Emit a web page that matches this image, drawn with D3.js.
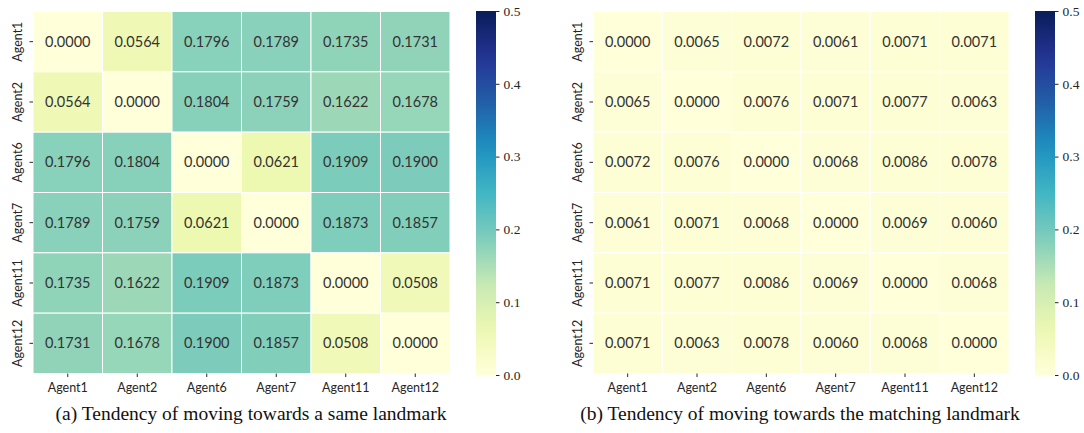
<!DOCTYPE html>
<html>
<head>
<meta charset="utf-8">
<script src="https://cdn.jsdelivr.net/npm/d3@7"></script>
<style>
  body { margin: 0; background: #fff; }
  svg { display: block; }
</style>
</head>
<body>
<svg id="chart" width="1084" height="433"></svg>
<script>
// agents on both axes
var agents = ['Agent1', 'Agent2', 'Agent6', 'Agent7', 'Agent11', 'Agent12'];

// (a) same landmark
var sameLandmark = [
  [0.0000, 0.0564, 0.1796, 0.1789, 0.1735, 0.1731],
  [0.0564, 0.0000, 0.1804, 0.1759, 0.1622, 0.1678],
  [0.1796, 0.1804, 0.0000, 0.0621, 0.1909, 0.1900],
  [0.1789, 0.1759, 0.0621, 0.0000, 0.1873, 0.1857],
  [0.1735, 0.1622, 0.1909, 0.1873, 0.0000, 0.0508],
  [0.1731, 0.1678, 0.1900, 0.1857, 0.0508, 0.0000]
];

// (b) matching landmark
var matchingLandmark = [
  [0.0000, 0.0065, 0.0072, 0.0061, 0.0071, 0.0071],
  [0.0065, 0.0000, 0.0076, 0.0071, 0.0077, 0.0063],
  [0.0072, 0.0076, 0.0000, 0.0068, 0.0086, 0.0078],
  [0.0061, 0.0071, 0.0068, 0.0000, 0.0069, 0.0060],
  [0.0071, 0.0077, 0.0086, 0.0069, 0.0000, 0.0068],
  [0.0071, 0.0063, 0.0078, 0.0060, 0.0068, 0.0000]
];

var colorbarTicks = [0.0, 0.1, 0.2, 0.3, 0.4, 0.5];
var captions = [
  '(a) Tendency of moving towards a same landmark',
  '(b) Tendency of moving towards the matching landmark'
];

var svg = d3.select('#chart');

// YlGnBu, 0 .. 0.5, matplotlib-like linear segments
var ylgnbu = d3.schemeYlGnBu[9];
var color = d3.scaleLinear()
  .domain(d3.range(9).map(function(i){ return i / 8 * 0.5; }))
  .range(ylgnbu)
  .interpolate(d3.interpolateRgb);

var sansFont = 'Lato, "DejaVu Sans", sans-serif';
var serifFont = '"Liberation Serif", "DejaVu Serif", serif';

var panels = [
  { data: sameLandmark, x0: 33, x1: 450, cbX: 476, caption: captions[0], capX: 251 },
  { data: matchingLandmark, x0: 593, x1: 1009, cbX: 1035, caption: captions[1], capX: 800 }
];
var mapTop = 11.5, mapBottom = 373.5;

panels.forEach(function(p, pi){
  var g = svg.append('g').attr('class', 'panel' + pi);

  var x = d3.scaleBand().domain(agents).range([p.x0, p.x1]);
  var y = d3.scaleBand().domain(agents).range([mapTop, mapBottom]);

  var cells = [];
  p.data.forEach(function(row, r){
    row.forEach(function(v, c){
      cells.push({ row: agents[r], col: agents[c], value: v });
    });
  });

  g.selectAll('rect.cell')
    .data(cells)
    .enter().append('rect')
    .attr('class', 'cell')
    .attr('x', function(d){ return x(d.col); })
    .attr('y', function(d){ return y(d.row); })
    .attr('width', x.bandwidth())
    .attr('height', y.bandwidth())
    .attr('fill', function(d){ return color(d.value); })
    .attr('stroke', '#fff')
    .attr('stroke-width', 1);

  g.selectAll('text.annot')
    .data(cells)
    .enter().append('text')
    .attr('class', 'annot')
    .attr('x', function(d){ return x(d.col) + x.bandwidth() / 2; })
    .attr('y', function(d){ return y(d.row) + y.bandwidth() / 2; })
    .attr('dy', '0.35em')
    .attr('text-anchor', 'middle')
    .attr('font-family', sansFont)
    .attr('font-size', '14.5px')
    .attr('fill', '#333')
    .text(function(d){ return d.value.toFixed(4); });

  // x axis
  var xAxis = g.append('g')
    .attr('transform', 'translate(0,' + mapBottom + ')')
    .call(d3.axisBottom(x).tickSize(3.5).tickPadding(6));
  xAxis.select('.domain').remove();
  xAxis.selectAll('text')
    .attr('font-family', sansFont)
    .attr('font-size', '12.5px')
    .attr('fill', '#262626');
  xAxis.selectAll('line').attr('stroke', '#262626');

  // y axis
  var yAxis = g.append('g')
    .attr('transform', 'translate(' + p.x0 + ',0)')
    .call(d3.axisLeft(y).tickSize(3.5).tickPadding(5));
  yAxis.select('.domain').remove();
  yAxis.selectAll('text')
    .attr('font-family', sansFont)
    .attr('font-size', '12.5px')
    .attr('fill', '#262626')
    .attr('text-anchor', 'middle')
    .attr('x', 0)
    .attr('dy', 0)
    .attr('transform', 'translate(-11,0) rotate(-90)');
  yAxis.selectAll('line').attr('stroke', '#262626');

  // colorbar
  var cbW = 20, cbTop = 11, cbBottom = 375;
  var gradId = 'grad' + pi;
  var grad = svg.append('defs').append('linearGradient')
    .attr('id', gradId)
    .attr('x1', 0).attr('x2', 0).attr('y1', 1).attr('y2', 0);
  d3.range(0, 1.0001, 0.05).forEach(function(t){
    grad.append('stop')
      .attr('offset', t)
      .attr('stop-color', color(t * 0.5));
  });
  g.append('rect')
    .attr('x', p.cbX)
    .attr('y', cbTop)
    .attr('width', cbW)
    .attr('height', cbBottom - cbTop)
    .attr('fill', 'url(#' + gradId + ')');

  var cbScale = d3.scaleLinear().domain([0, 0.5]).range([cbBottom, cbTop]);
  var cbAxis = g.append('g')
    .attr('transform', 'translate(' + (p.cbX + cbW) + ',0)')
    .call(d3.axisRight(cbScale).tickValues(colorbarTicks).tickFormat(d3.format('.1f')).tickSize(3.5).tickPadding(4));
  cbAxis.select('.domain').remove();
  cbAxis.selectAll('text')
    .attr('font-family', serifFont)
    .attr('font-size', '13.5px')
    .attr('fill', '#262626');
  cbAxis.selectAll('line').attr('stroke', '#262626');

  // caption
  svg.append('text')
    .attr('x', p.capX)
    .attr('y', 420)
    .attr('text-anchor', 'middle')
    .attr('font-family', serifFont)
    .attr('font-size', '19.5px')
    .attr('fill', '#111')
    .text(p.caption);
});
</script>
</body>
</html>
